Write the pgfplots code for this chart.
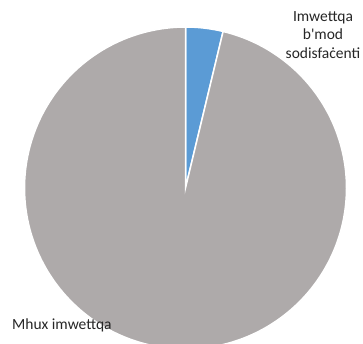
\documentclass[border=0pt]{standalone}
\usepackage{fontspec}
\setmainfont{Carlito}[Ligatures=TeXOff]
\usepackage{pgfplots}
\pgfplotsset{compat=1.18}
\definecolor{sliceblue}{HTML}{5B9BD5}
\definecolor{slicegrey}{HTML}{AEAAAA}
\definecolor{labeltext}{HTML}{262626}
% data (percent)
\def\valA{3.75}  % Imwettqa b'mod sodisfaċenti
\def\valB{96.25} % Mhux imwettqa
\pgfmathsetmacro{\aStart}{90}
\pgfmathsetmacro{\aMid}{90-3.6*\valA}
\pgfmathsetmacro{\aEnd}{\aMid-3.6*\valB}
\def\cx{185.5}
\def\cy{155}
\def\rr{161}
\begin{document}
\begin{tikzpicture}
\begin{axis}[
  scale only axis, width=363pt, height=343pt,
  xmin=0, xmax=363, ymin=0, ymax=343,
  hide axis, clip=true,
]
\addplot[fill=sliceblue, draw=white, line width=1.5pt, domain=\aMid:\aStart, samples=30]
  ({\cx+\rr*cos(x)}, {\cy+\rr*sin(x)}) -- (axis cs:\cx,\cy) -- cycle;
\addplot[fill=slicegrey, draw=white, line width=1.5pt, domain=\aEnd:\aMid, samples=200]
  ({\cx+\rr*cos(x)}, {\cy+\rr*sin(x)}) -- (axis cs:\cx,\cy) -- cycle;
\node[align=center, font=\fontsize{15.5}{18.5}\selectfont, text=labeltext, inner sep=0pt]
  at (axis cs:323,308) {Imwettqa\\b'mod\\sodisfaċenti};
\node[anchor=west, font=\fontsize{15.5}{18}\selectfont, text=labeltext, inner sep=0pt]
  at (axis cs:12,18) {Mhux imwettqa};
\end{axis}
\pgfresetboundingbox
\path[use as bounding box] (current axis.south west) rectangle (current axis.north east);
\end{tikzpicture}
\end{document}
